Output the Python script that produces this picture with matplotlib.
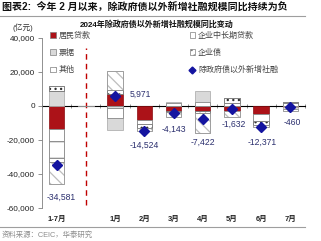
import matplotlib
matplotlib.use('Agg')
import matplotlib.pyplot as plt
import numpy as np
from matplotlib.patches import Patch
from matplotlib.lines import Line2D
from matplotlib.ticker import FuncFormatter

# ---------------- data (亿元) ----------------
categories = ['1-7月', '', '1月', '2月', '3月', '4月', '5月', '6月', '7月']
household = [-13700, 0, 7300, -8300, -2900, -2800, -2900, -4900, -300]
corp_long = [-19500, 0, -7000, -2000, 1500, 2300, 2000, -3900, 1500]
bills = [8600, 0, -7400, -500, 1000, 6300, 0, -300, -1200]
corp_bond = [2900, 0, 1900, -2200, -900, -1500, 2900, -1900, 1000]
other = [-12881, 0, 11171, -1524, -2843, -11722, -3632, -1371, -1460]
total = [-34581, np.nan, 5971, -14524, -4143, -7422, -1632, -12371, -460]
series_names = ['居民贷款', '企业中长期贷款', '票据', '企业债', '其他']
total_name = '除政府债以外新增社融'
yticks = [40000, 20000, 0, -20000, -40000, -60000]

# ---------------- styles ----------------
plt.rcParams['font.family'] = ['Liberation Sans', 'Noto Sans CJK SC', 'DejaVu Sans']
plt.rcParams['hatch.linewidth'] = 0.9
styles = [
    dict(facecolor='#AC1218', edgecolor='#8A0C10', hatch=None),
    dict(facecolor='white', edgecolor='#8C8C8C', hatch='-'),
    dict(facecolor='#D9D9D9', edgecolor='#A6A6A6', hatch=None),
    dict(facecolor='white', edgecolor='#333333', hatch='...'),
    dict(facecolor='white', edgecolor='#BDBDBD', hatch='\\\\\\'),
]
label_dx = [0.17, 0, 0.85, 0, 0, 0, 0.05, 0.05, 0.05]
label_dy = [-19100, 0, 900, -8600, -9560, -14100, -9270, -9130, -9340]
navy = '#1414A0'
label_color = '#2B2F6E'

W, H = 321, 241
fig = plt.figure(figsize=(W / 100, H / 100), dpi=100)
ax = fig.add_axes([42 / W, 1 - 208 / H, (305 - 42) / W, (208 - 38) / H])

x = np.arange(len(categories))
width = 0.53
pos_bottom = np.zeros(len(categories))
neg_bottom = np.zeros(len(categories))
all_series = [household, corp_long, bills, corp_bond, other]
for vals, st in zip(all_series, styles):
    v = np.array(vals, dtype=float)
    bottom = np.where(v >= 0, pos_bottom, neg_bottom)
    ax.bar(x, v, width, bottom=bottom, facecolor=st['facecolor'],
           edgecolor=st['edgecolor'], hatch=st['hatch'], linewidth=0.5, zorder=2)
    if st['hatch'] is not None:
        ax.bar(x, v, width, bottom=bottom, facecolor='none',
               edgecolor='#8C8C8C', linewidth=0.5, zorder=2.5)
    pos_bottom = pos_bottom + np.where(v >= 0, v, 0)
    neg_bottom = neg_bottom + np.where(v < 0, v, 0)

tot = np.array(total, dtype=float)
ax.plot(x, tot, linestyle='none', marker='D', markersize=5, color=navy, zorder=4)
for i, v in enumerate(total):
    if np.isnan(v):
        continue
    ax.text(x[i] + label_dx[i], v + label_dy[i], f"{v:,.0f}", ha='center', va='center',
            fontsize=6.2, color=label_color, zorder=5)

# divider
ax.axvline(1, ymin=0.016, ymax=0.939, color='#C00000', lw=1.0, dashes=(4, 3), zorder=1)

ax.set_xlim(-0.5, len(categories) - 0.5)
ax.set_ylim(-60000, 40000)
ax.set_yticks(yticks)
ax.yaxis.set_major_formatter(FuncFormatter(lambda v, p: f"{v:,.0f}"))
ax.tick_params(axis='y', labelsize=5.9, length=3, width=0.6, color='#7F7F7F',
               labelcolor='#222222', pad=2)
ax.set_xticks(x)
ax.set_xticklabels(categories, fontsize=5.4, fontweight='bold', color='#222222')
ax.tick_params(axis='x', length=0, pad=6)
for s in ['top', 'right', 'bottom']:
    ax.spines[s].set_visible(False)
ax.spines['left'].set_color('#7F7F7F')
ax.spines['left'].set_linewidth(0.6)

# zero line with category boundary ticks
sec = ax.secondary_xaxis(0.6)
sec.set_xticks(np.arange(-0.5, len(categories), 1.0))
sec.set_xticklabels([])
sec.tick_params(length=3, direction='inout', width=0.6, color='#7F7F7F')
sec.spines['bottom'].set_color('#7F7F7F')
sec.spines['bottom'].set_linewidth(0.7)

# legend (row-major order like the reference: matplotlib fills columns first)
handles = [Patch(facecolor=st['facecolor'], edgecolor='#7F7F7F', hatch=st['hatch'], linewidth=0.5)
           for st in styles]
handles.append(Line2D([], [], linestyle='none', marker='D', markersize=3.5, color=navy))
labels = series_names + [total_name]
order = [0, 2, 4, 1, 3, 5]
leg = ax.legend([handles[i] for i in order], [labels[i] for i in order], ncol=2,
                loc='upper left',
                bbox_to_anchor=(50 / W, 1 - 31.5 / H), bbox_transform=fig.transFigure,
                frameon=False, fontsize=5.8, handlelength=0.7, handleheight=0.7,
                handletextpad=0.35, columnspacing=12.3, labelspacing=1.15,
                borderpad=0, borderaxespad=0)
for t in leg.get_texts():
    t.set_color('#444444')

# titles / texts
fig.text(2 / W, 1 - 7 / H, '图表2:  今年 2 月以来，除政府债以外新增社融规模同比持续为负',
         fontsize=7.2, fontweight='bold', va='center', ha='left', color='#111111')
fig.add_artist(Line2D([0, 305 / W], [1 - 15.5 / H, 1 - 15.5 / H], color='#9E9E9E', lw=0.8))
fig.text(157 / W, 1 - 24 / H, '2024年除政府债以外新增社融规模同比变动', fontsize=5.8,
         fontweight='bold', ha='center', va='center', color='#111111')
fig.text(23 / W, 1 - 28 / H, '(亿元)', fontsize=5.6, ha='center', va='center', color='#333333')
fig.add_artist(Line2D([0, 305 / W], [1 - 227 / H, 1 - 227 / H], color='#9E9E9E', lw=0.8))
fig.text(2 / W, 1 - 235 / H, '资料来源：CEIC，华泰研究', fontsize=5.3, ha='left', va='center',
         color='#8C8C8C')

fig.savefig('out.png', dpi=100)
